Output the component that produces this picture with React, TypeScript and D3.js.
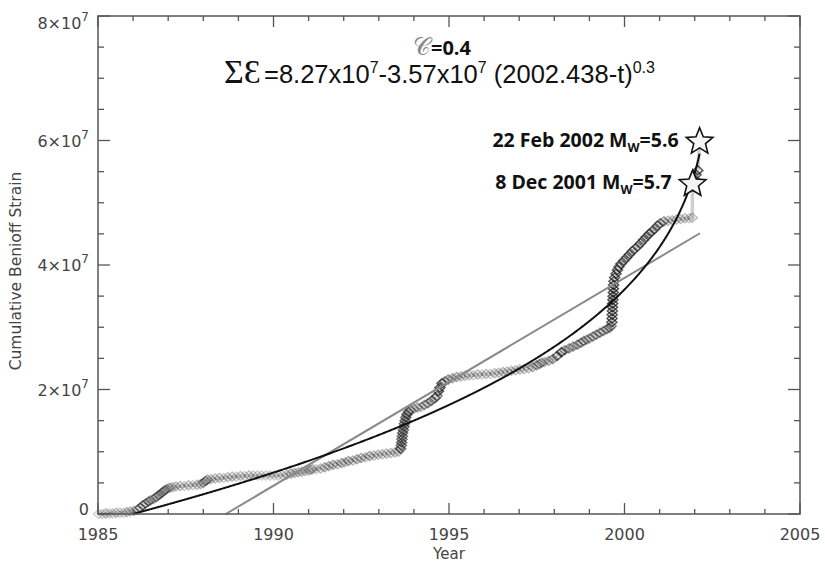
import React from "react";
import * as d3 from "d3";

const W = 825;
const H = 567;

// axis extents and ticks
const xDomain = [1985, 2005];
const yDomain = [0, 8e7];
const xMajorTicks = [1985, 1990, 1995, 2000, 2005];
const xMinorTicks = [1986, 1987, 1988, 1989, 1991, 1992, 1993, 1994, 1996, 1997, 1998, 1999, 2001, 2002, 2003, 2004];
const yMajorTicks = [0, 2e7, 4e7, 6e7, 8e7];
const yMinorTicks = [5e6, 1e7, 1.5e7, 2.5e7, 3e7, 3.5e7, 4.5e7, 5e7, 5.5e7, 6.5e7, 7e7, 7.5e7];

// cumulative Benioff strain (years, values in units of 1e7)
const strainYears = [
  1985.02, 1985.12, 1985.22, 1985.32, 1985.42, 1985.52, 1985.62, 1985.72, 1985.82, 1985.92,
  1986.02, 1986.12, 1986.2, 1986.28, 1986.36, 1986.44, 1986.5, 1986.58, 1986.66, 1986.72,
  1986.78, 1986.84, 1986.9, 1986.96, 1987.04, 1987.12, 1987.22, 1987.34, 1987.46, 1987.58,
  1987.7, 1987.82, 1987.92, 1988.0, 1988.06, 1988.12, 1988.22, 1988.34, 1988.46, 1988.58,
  1988.7, 1988.82, 1988.94, 1989.06, 1989.18, 1989.3, 1989.42, 1989.54, 1989.66, 1989.78,
  1989.9, 1990.02, 1990.14, 1990.26, 1990.38, 1990.5, 1990.6, 1990.7, 1990.8, 1990.9,
  1991.0, 1991.06, 1991.12, 1991.22, 1991.34, 1991.46, 1991.58, 1991.7, 1991.82, 1991.94,
  1992.04, 1992.14, 1992.26, 1992.38, 1992.5, 1992.62, 1992.74, 1992.86, 1992.98, 1993.1,
  1993.22, 1993.34, 1993.46, 1993.56, 1993.62, 1993.64, 1993.65, 1993.66, 1993.67, 1993.68,
  1993.7, 1993.72, 1993.73, 1993.75, 1993.77, 1993.8, 1993.84, 1993.9, 1994.0, 1994.1,
  1994.2, 1994.3, 1994.4, 1994.5, 1994.6, 1994.66, 1994.7, 1994.74, 1994.8, 1994.88,
  1994.98, 1995.1, 1995.22, 1995.34, 1995.46, 1995.58, 1995.7, 1995.82, 1995.94, 1996.06,
  1996.18, 1996.3, 1996.42, 1996.54, 1996.66, 1996.78, 1996.9, 1997.02, 1997.14, 1997.26,
  1997.38, 1997.5, 1997.58, 1997.64, 1997.72, 1997.84, 1997.96, 1998.08, 1998.2, 1998.3,
  1998.42, 1998.54, 1998.66, 1998.76, 1998.84, 1998.92, 1999.0, 1999.1, 1999.2, 1999.3,
  1999.4, 1999.5, 1999.58, 1999.62, 1999.64, 1999.645, 1999.65, 1999.655, 1999.66, 1999.665,
  1999.67, 1999.675, 1999.68, 1999.685, 1999.69, 1999.7, 1999.72, 1999.76, 1999.8, 1999.84,
  1999.9, 1999.98, 2000.06, 2000.14, 2000.22, 2000.3, 2000.38, 2000.46, 2000.54, 2000.62,
  2000.7, 2000.78, 2000.86, 2000.94, 2001.02, 2001.12, 2001.24, 2001.36, 2001.48, 2001.6,
  2001.72, 2001.84, 2001.93, 2001.94, 2001.99, 2002.04, 2002.09, 2002.14,
];
const strainValues = [
  0.0, 0.0, 0.01, 0.01, 0.01, 0.02, 0.02, 0.02, 0.03, 0.04,
  0.05, 0.07, 0.1, 0.14, 0.17, 0.2, 0.22, 0.24, 0.27, 0.3,
  0.32, 0.35, 0.38, 0.4, 0.42, 0.43, 0.44, 0.45, 0.45, 0.46,
  0.46, 0.47, 0.48, 0.5, 0.53, 0.55, 0.56, 0.57, 0.58, 0.58,
  0.59, 0.6, 0.6, 0.61, 0.61, 0.62, 0.62, 0.62, 0.62, 0.62,
  0.62, 0.62, 0.62, 0.62, 0.63, 0.65, 0.66, 0.67, 0.68, 0.69,
  0.7, 0.71, 0.72, 0.72, 0.73, 0.75, 0.77, 0.79, 0.8, 0.82,
  0.83, 0.85, 0.86, 0.88, 0.9, 0.91, 0.93, 0.94, 0.95, 0.96,
  0.97, 0.98, 0.99, 1.0, 1.05, 1.1, 1.15, 1.2, 1.25, 1.3,
  1.35, 1.4, 1.45, 1.5, 1.55, 1.6, 1.64, 1.67, 1.69, 1.71,
  1.72, 1.75, 1.78, 1.82, 1.86, 1.9, 1.97, 2.03, 2.1, 2.13,
  2.16, 2.18, 2.2, 2.21, 2.22, 2.23, 2.23, 2.24, 2.24, 2.25,
  2.25, 2.26, 2.27, 2.28, 2.29, 2.3, 2.31, 2.32, 2.33, 2.34,
  2.36, 2.39, 2.41, 2.43, 2.44, 2.46, 2.49, 2.54, 2.6, 2.63,
  2.66, 2.69, 2.72, 2.75, 2.78, 2.8, 2.82, 2.85, 2.88, 2.91,
  2.94, 2.97, 2.99, 3.02, 3.08, 3.14, 3.2, 3.26, 3.32, 3.38,
  3.44, 3.5, 3.56, 3.62, 3.68, 3.74, 3.8, 3.86, 3.92, 3.97,
  4.02, 4.07, 4.12, 4.17, 4.22, 4.26, 4.3, 4.35, 4.4, 4.45,
  4.5, 4.54, 4.58, 4.63, 4.67, 4.7, 4.71, 4.72, 4.73, 4.74,
  4.75, 4.75, 4.76, 5.32, 5.38, 5.45, 5.52, 5.98,
];
const VALUE_UNIT = 1e7;

// power-law fit  ΣƐ = A - B (tc - t)^m
const fitParams = { A: 8.27e7, B: 3.57e7, tc: 2002.438, m: 0.3 };
const fitRange = [1986.0, 2002.14];
// linear fit end points [year, value(1e7)]
const linearFit = [
  [1988.64, 0],
  [2002.15, 4.51],
];

// marked events
const eventLabels = ["22 Feb 2002 M", "8 Dec 2001 M"];
const eventMags = ["=5.6", "=5.7"];
const eventYears = [2002.14, 2001.94];
const eventValues = [5.98, 5.3];

const PL = 98, PR = 800, PT = 16, PB = 514;

function starPath(cx: number, cy: number, R: number, r: number) {
  const pts: string[] = [];
  for (let i = 0; i < 10; i++) {
    const rad = i % 2 === 0 ? R : r;
    const a = -Math.PI / 2 + (i * Math.PI) / 5;
    pts.push(`${cx + rad * Math.cos(a)},${cy + rad * Math.sin(a)}`);
  }
  return "M" + pts.join("L") + "Z";
}

export default function App() {
  const x = d3.scaleLinear().domain(xDomain).range([PL, PR]);
  const y = d3.scaleLinear().domain(yDomain).range([PB, PT]);

  const pts = strainYears.map((t, i) => [t, strainValues[i] * VALUE_UNIT] as [number, number]);
  const line = d3
    .line<[number, number]>()
    .x((d) => x(d[0]))
    .y((d) => y(d[1]));

  const fitT = d3.range(fitRange[0], fitRange[1], 0.02).concat([fitRange[1]]);
  const fitPts = fitT.map(
    (t) => [t, fitParams.A - fitParams.B * Math.pow(fitParams.tc - t, fitParams.m)] as [number, number]
  );

  // marker darkness follows the size of each strain increment
  const shade = d3.scaleLinear().domain([0, 0.06]).range([0.2, 0.7]).clamp(true);

  const axisColor = "#555";
  const textColor = "#444";
  const tickFont = "'DejaVu Sans', sans-serif";

  const diamond = (cx: number, cy: number) =>
    `M${cx},${cy - 4.5}L${cx + 5},${cy}L${cx},${cy + 4.5}L${cx - 5},${cy}Z`;

  return (
    <svg width={W} height={H} style={{ position: "absolute", left: 0, top: 0, background: "#fff" }}>
      {/* data step line */}
      <path d={line(pts) || ""} fill="none" stroke="#cfcfcf" strokeWidth={3.5} strokeLinejoin="round" />
      {pts.map((d, i) => {
        const inc = i === 0 ? 0 : strainValues[i] - strainValues[i - 1];
        return (
          <path
            key={i}
            d={diamond(x(d[0]), y(d[1]))}
            fill="none"
            stroke="#111"
            strokeOpacity={shade(Math.min(inc, 0.06))}
            strokeWidth={1.5}
          />
        );
      })}

      {/* linear fit */}
      <path
        d={line(linearFit.map((d) => [d[0], d[1] * VALUE_UNIT] as [number, number])) || ""}
        fill="none"
        stroke="#8a8a8a"
        strokeWidth={2}
      />
      {/* power law fit */}
      <path d={line(fitPts) || ""} fill="none" stroke="#111" strokeWidth={2} />

      {/* axes box */}
      <rect x={PL} y={PT} width={PR - PL} height={PB - PT} fill="none" stroke={axisColor} strokeWidth={1.5} />
      {xMajorTicks.map((t) => (
        <g key={"xM" + t}>
          <line x1={x(t)} x2={x(t)} y1={PB} y2={PB - 11} stroke={axisColor} strokeWidth={1.3} />
          <line x1={x(t)} x2={x(t)} y1={PT} y2={PT + 11} stroke={axisColor} strokeWidth={1.3} />
          <text x={x(t)} y={540} textAnchor="middle" fontFamily={tickFont} fontSize={16} fill={textColor}>
            {t}
          </text>
        </g>
      ))}
      {xMinorTicks.map((t) => (
        <g key={"xm" + t}>
          <line x1={x(t)} x2={x(t)} y1={PB} y2={PB - 5} stroke={axisColor} strokeWidth={1.3} />
          <line x1={x(t)} x2={x(t)} y1={PT} y2={PT + 5} stroke={axisColor} strokeWidth={1.3} />
        </g>
      ))}
      {yMajorTicks.map((v) => {
        const yy = y(v);
        const base = Math.min(Math.max(yy + 6, 29), 515);
        return (
          <g key={"yM" + v}>
            <line x1={PL} x2={PL + 12} y1={yy} y2={yy} stroke={axisColor} strokeWidth={1.3} />
            <line x1={PR} x2={PR - 12} y1={yy} y2={yy} stroke={axisColor} strokeWidth={1.3} />
            <text x={89} y={base} textAnchor="end" fontFamily={tickFont} fontSize={16} fill={textColor}>
              {v === 0 ? (
                "0"
              ) : (
                <>
                  <tspan>{`${v / VALUE_UNIT}×10`}</tspan>
                  <tspan dy={-8} fontSize={12}>
                    7
                  </tspan>
                </>
              )}
            </text>
          </g>
        );
      })}
      {yMinorTicks.map((v) => (
        <g key={"ym" + v}>
          <line x1={PL} x2={PL + 6} y1={y(v)} y2={y(v)} stroke={axisColor} strokeWidth={1.3} />
          <line x1={PR} x2={PR - 6} y1={y(v)} y2={y(v)} stroke={axisColor} strokeWidth={1.3} />
        </g>
      ))}

      {/* axis titles */}
      <text x={449} y={559} textAnchor="middle" fontFamily={tickFont} fontSize={15} fill={textColor}>
        Year
      </text>
      <text
        transform="translate(21,271) rotate(-90)"
        textAnchor="middle"
        fontFamily={tickFont}
        fontSize={15.5}
        fill={textColor}
      >
        Cumulative Benioff Strain
      </text>

      {/* title */}
      <text x={413} y={55} fontFamily="'DejaVu Sans', serif" fontSize={24} fill="#888">
        𝒞
      </text>
      <text x={431} y={55} fontFamily="'Open Sans', sans-serif" fontWeight="bold" fontSize={20} fill="#111">
        =0.4
      </text>
      <text x={224} y={83} fontFamily="'Liberation Serif', serif" fontSize={34} fill="#111">
        ΣƐ
      </text>
      <text x={264} y={83} fontFamily="'Liberation Sans', sans-serif" fontSize={25.5} fill="#111">
        <tspan>=8.27x10</tspan>
        <tspan dy={-10} fontSize={16}>7</tspan>
        <tspan dy={10}>-3.57x10</tspan>
        <tspan dy={-10} fontSize={16}>7</tspan>
        <tspan dy={10}> (2002.438-t)</tspan>
        <tspan dy={-10} fontSize={16}>0.3</tspan>
      </text>

      {/* events */}
      {eventYears.map((t, i) => {
        const cx = x(t);
        const cy = y(eventValues[i] * VALUE_UNIT);
        return (
          <g key={"ev" + i}>
            <path d={starPath(cx, cy, 14, 6.2)} fill="#f4f4f4" stroke="#111" strokeWidth={1.6} strokeLinejoin="miter" />
            <text
              x={cx - 21}
              y={cy + 5}
              textAnchor="end"
              fontFamily="'Open Sans', sans-serif"
              fontWeight="bold"
              fontSize={19.5}
              fill="#111"
            >
              <tspan>{eventLabels[i]}</tspan>
              <tspan dy={5} fontSize={12.5}>W</tspan>
              <tspan dy={-5}>{eventMags[i]}</tspan>
            </text>
          </g>
        );
      })}
    </svg>
  );
}
